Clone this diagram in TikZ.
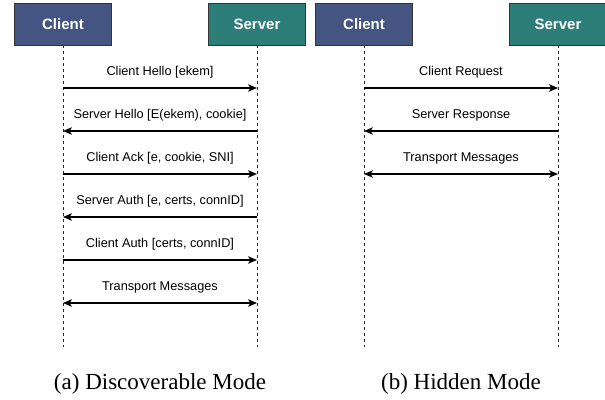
\documentclass[tikz,border=0pt]{standalone}
\usepackage{fontspec}
\setmainfont{Liberation Serif}
\setsansfont{Liberation Sans}
\usetikzlibrary{arrows.meta}

\definecolor{clientfill}{RGB}{67,85,128}
\definecolor{serverfill}{RGB}{45,125,120}
\definecolor{boxline}{RGB}{51,51,51}
\definecolor{lifegray}{RGB}{40,40,40}

\tikzset{
  party/.style={draw=boxline, line width=0.9pt, minimum width=97pt, minimum height=42pt,
    inner sep=0pt, text=white, font=\sffamily\bfseries\fontsize{15}{18}\selectfont},
  clientbox/.style={party, fill=clientfill},
  serverbox/.style={party, fill=serverfill},
  lifeline/.style={draw=lifegray, line width=0.9pt, dash pattern=on 3pt off 3pt},
  msg/.style={draw=black, line width=1.1pt, -{Stealth[length=9pt,width=7.5pt,inset=2.5pt]}},
  msgboth/.style={msg, {Stealth[length=9pt,width=7.5pt,inset=2.5pt]}-{Stealth[length=9pt,width=7.5pt,inset=2.5pt]}},
  msglabel/.style={font=\sffamily\fontsize{12.75}{15}\selectfont, inner sep=0pt, yshift=16pt},
  caption/.style={font=\fontsize{23}{27}\selectfont, inner sep=0pt}
}

\begin{document}
\begin{tikzpicture}[x=1pt, y=-1pt]
  \useasboundingbox (0,0) rectangle (605,399);

  % ---- (a) discoverable mode ----
  \node[clientbox] (ca) at (63,24) {Client};
  \node[serverbox] (sa) at (257,24) {Server};
  \coordinate (caend) at (63,347);
  \coordinate (saend) at (257,347);
  \draw[lifeline] (ca.south) -- (caend);
  \draw[lifeline] (sa.south) -- (saend);

  \draw[msg] (ca |- 0,88)  -- node[msglabel] {Client Hello [ekem]} (sa |- 0,88);
  \draw[msg] (sa |- 0,131) -- node[msglabel] {Server Hello [E(ekem), cookie]} (ca |- 0,131);
  \draw[msg] (ca |- 0,174) -- node[msglabel] {Client Ack [e, cookie, SNI]} (sa |- 0,174);
  \draw[msg] (sa |- 0,217) -- node[msglabel] {Server Auth [e, certs, connID]} (ca |- 0,217);
  \draw[msg] (ca |- 0,260) -- node[msglabel] {Client Auth [certs, connID]} (sa |- 0,260);
  \draw[msgboth] (ca |- 0,303) -- node[msglabel] {Transport Messages} (sa |- 0,303);

  \node[caption] (capa) at (160,384) {(a) Discoverable Mode};

  % ---- (b) hidden mode ----
  \node[clientbox] (cb) at (364,24) {Client};
  \node[serverbox] (sb) at (558,24) {Server};
  \coordinate (cbend) at (364,347);
  \coordinate (sbend) at (558,347);
  \draw[lifeline] (cb.south) -- (cbend);
  \draw[lifeline] (sb.south) -- (sbend);

  \draw[msg] (cb |- 0,88)  -- node[msglabel] {Client Request} (sb |- 0,88);
  \draw[msg] (sb |- 0,131) -- node[msglabel] {Server Response} (cb |- 0,131);
  \draw[msgboth] (cb |- 0,174) -- node[msglabel] {Transport Messages} (sb |- 0,174);

  \node[caption] (capb) at (461,384) {(b) Hidden Mode};
\end{tikzpicture}
\end{document}
